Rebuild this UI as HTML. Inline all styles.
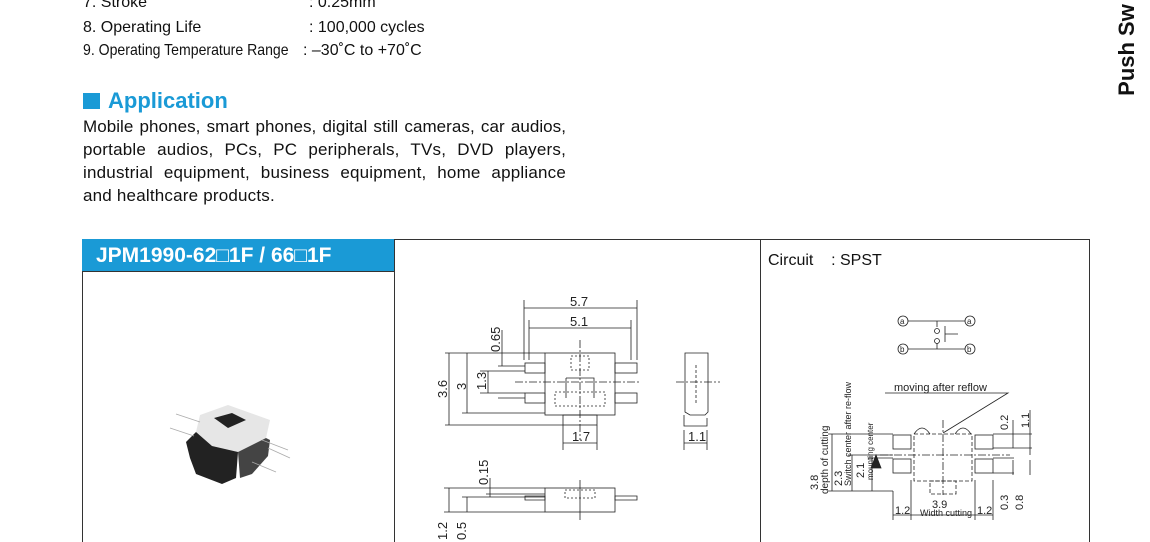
<!DOCTYPE html>
<html style="overflow:hidden"><head><meta charset="utf-8"><style>
html,body{overflow:hidden;height:542px}
body{margin:0;background:#fff;width:1150px;height:542px;position:relative;font-family:"Liberation Sans",sans-serif;color:#111}
.t{position:absolute;white-space:nowrap;font-size:16px}
.j{position:absolute;left:83px;width:483px;font-size:17px;letter-spacing:0.2px;text-align:justify;text-align-last:justify;white-space:nowrap;height:23px;line-height:23px}
</style></head><body>
<div class="t" style="left:83px;top:-6px">7. Stroke</div><div class="t" style="left:309px;top:-6px">: 0.25mm</div>
<div class="t" style="left:83px;top:19px">8. Operating Life</div><div class="t" style="left:309px;top:19px">: 100,000 cycles</div>
<div class="t" style="left:83px;top:42px;transform:scaleX(0.88);transform-origin:left">9. Operating Temperature Range</div><div class="t" style="left:303px;top:42px">: –30˚C to +70˚C</div>
<div style="position:absolute;left:83px;top:93px;width:17px;height:16px;background:#1a9ad6"></div>
<div class="t" style="left:108px;top:88px;font-size:22px;font-weight:bold;color:#1a9ad6">Application</div>
<div class="j" style="top:115px;letter-spacing:0.05px">Mobile phones, smart phones, digital still cameras, car audios,</div>
<div class="j" style="top:138px">portable audios, PCs, PC peripherals, TVs, DVD players,</div>
<div class="j" style="top:161px">industrial equipment, business equipment, home appliance</div>
<div class="t" style="left:83px;top:184px;font-size:17px;letter-spacing:0.2px;line-height:23px">and healthcare products.</div>
<div class="t" style="left:1081px;top:37px;font-size:22px;font-weight:bold;transform:rotate(-90deg);transform-origin:center">Push Sw</div>
<div style="position:absolute;left:82px;top:239px;width:1006px;height:320px;border:1px solid #333"></div>
<div style="position:absolute;left:394px;top:239px;width:1px;height:320px;background:#333"></div>
<div style="position:absolute;left:760px;top:239px;width:1px;height:320px;background:#333"></div>
<div style="position:absolute;left:82px;top:239px;width:312px;height:32px;background:#1a9ad6;border-bottom:1px solid #333;color:#fff;font-weight:bold;font-size:21px;line-height:33px;text-indent:14px">JPM1990-62□1F / 66□1F</div>
<div class="t" style="left:768px;top:252px">Circuit&nbsp;&nbsp;&nbsp;&nbsp;: SPST</div>
<svg width="1150" height="542" style="position:absolute;left:0;top:0" font-family="Liberation Sans" font-size="12" fill="none" stroke="#222" stroke-width="0.8">
<g stroke="none">
<path d="M200 415 L228 405 L270 420 L266 438 L238 452 L212 446 L196 432 Z" fill="#e6e6e6"/>
<path d="M214 418 L232 413 L246 420 L228 428 Z" fill="#222"/>
<path d="M186 442 L196 432 L212 446 L238 452 L236 478 L222 484 L196 474 L190 458 Z" fill="#222"/>
<path d="M266 438 L270 440 L268 456 L252 474 L240 478 L238 452 Z" fill="#444"/>
</g>
<g stroke="#aaa"><path d="M176 414 L200 422 M170 428 L194 436 M262 440 L288 450 M252 462 L276 472 M268 448 L290 458"/></g>
<rect x="545" y="353" width="70" height="62"/>
<rect x="563" y="415" width="34" height="10"/>
<rect x="525" y="363" width="20" height="10"/><rect x="525" y="393" width="20" height="10"/>
<rect x="615" y="363" width="22" height="10"/><rect x="615" y="393" width="22" height="10"/>
<rect x="571" y="356" width="18" height="14" stroke-dasharray="2 2"/>
<rect x="555" y="392" width="50" height="14" stroke-dasharray="2 2"/>
<path d="M566 378 h28 v20 M566 378 v20"/>
<path d="M580 340 V440 M515 382 H640 M676 382 H720" stroke-dasharray="8 2 2 2"/>
<path d="M524 300V360 M637 300V360 M529 320V360 M631 320V360 M524 308H637 M529 328H631 M445 353H545 M445 425H563 M462 413H545 M480 371H525 M480 393H525 M498 366H525 M498 398H525 M449 353V425 M467 353V413 M488 371V393 M502 330V366 M563 425V450 M597 425V450 M563 443H597"/>
<g fill="#222" stroke="none" font-size="13"><text x="570" y="306">5.7</text><text x="570" y="326">5.1</text><text x="572" y="441">1.7</text>
<text transform="translate(447,398) rotate(-90)">3.6</text><text transform="translate(466,390) rotate(-90)">3</text><text transform="translate(486,390) rotate(-90)">1.3</text><text transform="translate(500,352) rotate(-90)">0.65</text></g>
<path d="M685 353 H708 V412 L705 415 H690 L685 412 Z M684 415 V426 H707 V418 M684 430V450 M707 430V450 M684 443H707"/>
<path d="M696 365 V405" stroke-dasharray="3 2"/>
<text x="688" y="441" fill="#222" stroke="none" font-size="13">1.1</text>
<rect x="545" y="488" width="70" height="24"/>
<path d="M525 496H545 V500 H525 Z M615 496H637 V500 H615 Z M580 480V520 M444 488H545 M444 512H545 M462 497H545 M449 488V512 M467 497V512 M490 478V497 M486 494H545"/>
<rect x="565" y="490" width="30" height="8" stroke-dasharray="2 2"/>
<g fill="#222" stroke="none" font-size="13"><text transform="translate(488,485) rotate(-90)">0.15</text><text transform="translate(447,540) rotate(-90)">1.2</text><text transform="translate(466,540) rotate(-90)">0.5</text></g>
<circle cx="903" cy="321" r="5"/><circle cx="970" cy="321" r="5"/><circle cx="903" cy="349" r="5"/><circle cx="970" cy="349" r="5"/>
<path d="M908 321H965 M908 349H965 M937 321V327 M937 343V349 M945 326V342 M945 334H958"/>
<circle cx="937" cy="331" r="2.5"/><circle cx="937" cy="341" r="2.5"/>
<g fill="#222" stroke="none" font-size="8"><text x="900" y="324">a</text><text x="967" y="324">a</text><text x="900" y="352">b</text><text x="967" y="352">b</text></g>
<rect x="893" y="435" width="18" height="14"/><rect x="893" y="459" width="18" height="14"/>
<rect x="975" y="435" width="18" height="14"/><rect x="975" y="459" width="18" height="14"/>
<rect x="914" y="434" width="58" height="47" stroke-dasharray="4 2"/>
<rect x="930" y="481" width="26" height="13" stroke-dasharray="4 2"/>
<path d="M914 434 q8 -12 16 0 M955 434 q8 -12 16 0"/>
<path d="M943 420V495 M880 455H1010" stroke-dasharray="8 2 2 2"/>
<path d="M885 393H1008 L943 433 M828 434H893 M848 455H893 M868 458H893 M828 491H893 M893 491V520 M911 480V520 M975 480V520 M993 480V520 M893 515H993 M832 434V491 M852 455V491 M872 458V491 M993 434H1032 M993 448H1032 M993 458H1014 M993 473H1014 M1013 420V448 M1030 410V455 M1013 460V475 M1030 460V475" />
<path d="M876 455 L871 468 H881 Z" fill="#222"/>
<g fill="#222" stroke="none" font-size="11"><text x="894" y="391">moving after reflow</text>
<text x="932" y="508">3.9</text><text x="920" y="516" font-size="9">Width cutting</text><text x="895" y="514">1.2</text><text x="977" y="514">1.2</text>
<text transform="translate(818,490) rotate(-90)">3.8</text><text transform="translate(828,494) rotate(-90)" font-size="10">depth of cutting</text>
<text transform="translate(842,486) rotate(-90)">2.3</text><text transform="translate(851,486) rotate(-90)" font-size="9">Switch center after re-flow</text>
<text transform="translate(864,478) rotate(-90)">2.1</text><text transform="translate(873,480) rotate(-90)" font-size="8">mounting center</text>
<text transform="translate(1008,430) rotate(-90)">0.2</text><text transform="translate(1029,428) rotate(-90)">1.1</text>
<text transform="translate(1008,510) rotate(-90)">0.3</text><text transform="translate(1023,510) rotate(-90)">0.8</text></g>
</svg>
</body></html>
